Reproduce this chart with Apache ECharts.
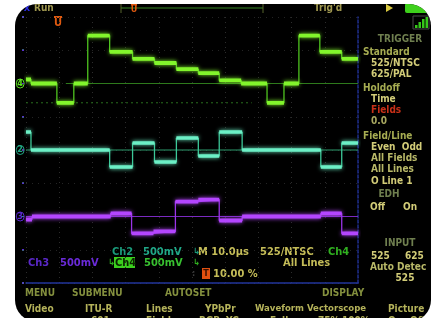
<!DOCTYPE html>
<html>
<head>
<meta charset="utf-8">
<script src="https://cdn.jsdelivr.net/npm/echarts@6/dist/echarts.min.js"></script>
<style>
  html, body { margin: 0; padding: 0; background: #fff; }
  #screen { position: absolute; left: 15px; top: 4px; width: 416px; height: 318px;
            background: #000; border-radius: 22px; overflow: hidden; }
  #main { position: absolute; left: -15px; top: -4px; width: 438px; height: 318px; }
</style>
</head>
<body>
<div id="screen"><div id="main"></div></div>
<script>
// time axis in microseconds (10 us / div), voltages in mV (500 mV / div)
const timeTicks = [0, 10, 20, 30, 40, 50, 60, 70, 80, 90, 100];

// Ch4 : Y (luma) - colour bars with sync
const ch4Edges  = [0, 1.5, 9.3, 14.4, 18.6, 25.2, 32.1, 38.7, 45.3, 51.9, 58.2, 64.8, 72.6, 77.7, 82.2, 88.5, 95.1, 100];
const ch4Levels = [60, 0, -290, 0, 720, 475, 370, 308, 215, 155, 46, 0, -290, 0, 720, 475, 370];

// Ch2 : Pb
const ch2Edges  = [0, 1.5, 25.2, 32.1, 38.7, 45.3, 51.9, 58.2, 65.1, 88.8, 95.1, 100];
const ch2Levels = [270, 0, -255, 105, -180, 180, -90, 270, 0, -255, 105];

// Ch3 : Pr
const ch3Edges  = [0, 1.8, 25.5, 31.8, 38.4, 45.0, 51.9, 58.2, 65.1, 88.8, 95.1, 100];
const ch3Levels = [-45, 0, 45, -255, -225, 225, 255, -60, 0, 45, -255];

// persistence traces (other lines of the field)
const ch4GhostEdges  = [12, 100];
const ch4GhostLevels = [0];
const ch4SyncGhostEdges  = [0, 68];
const ch4SyncGhostLevels = [-290];
const baseEdges  = [0, 100];
const baseLevels = [0];

const FONT = '"DejaVu Sans Condensed", "DejaVu Sans", sans-serif';

function stepData(edges, levels) {
  return edges.map((t, i) => [t, levels[Math.min(i, levels.length - 1)]]);
}
function levelData(edges, levels) {
  const out = [];
  levels.forEach((v, i) => { out.push([edges[i], v], [edges[i + 1], v], [edges[i + 1], '-']); });
  return out;
}

function txt(text, x, y, fill, size, align) {
  return { type: 'text', x: x, y: y, silent: true,
    style: { text: text, fill: fill, font: 'bold ' + (size || 10) + 'px ' + FONT,
             textAlign: align || 'left', textVerticalAlign: 'middle' } };
}

function trace(axis, edges, levels, thin, bright, width) {
  return [
    { type: 'line', yAxisIndex: axis, step: 'end', symbol: 'none', silent: true,
      data: stepData(edges, levels), lineStyle: { color: thin, width: 1.3 } },
    { type: 'line', yAxisIndex: axis, symbol: 'none', silent: true, connectNulls: false,
      data: levelData(edges, levels),
      lineStyle: { color: bright, width: width, shadowBlur: 4, shadowColor: bright } }
  ];
}
function ghost(axis, edges, levels, color, type) {
  return { type: 'line', yAxisIndex: axis, symbol: 'none', silent: true, z: 1,
    data: levelData(edges, levels), lineStyle: { color: color, width: 1, type: type || 'solid' } };
}

const chanLabel = (num, color) => ({
  show: true, margin: 2, color: color, fontSize: 9, fontWeight: 'bold', fontFamily: FONT,
  borderColor: color, borderWidth: 1, borderRadius: 4, padding: [0, 1, 0, 1],
  formatter: v => (v === 0 ? num : '')
});
const hidden = { axisLine: { show: false }, axisTick: { show: false }, splitLine: { show: false } };

const header = '#6f7f4f', olive = '#a6ac52', pale = '#d2cc78', item = '#b8b868';
const menuHead = '#84903e', menuItem = '#b4b25a', readout = '#c4bc58';

const graphics = [
  // status bar
  txt('x', 27, 8, '#2a2ae0', 11, 'center'),
  txt('Run', 34, 8, '#a09850'),
  { type: 'line', silent: true, shape: { x1: 121, y1: 8, x2: 263, y2: 8 }, style: { stroke: '#1c4412', lineWidth: 2 } },
  { type: 'line', silent: true, shape: { x1: 121, y1: 4, x2: 121, y2: 13 }, style: { stroke: '#56642c', lineWidth: 1 } },
  { type: 'line', silent: true, shape: { x1: 263, y1: 4, x2: 263, y2: 13 }, style: { stroke: '#56642c', lineWidth: 1 } },
  txt('U', 134, 10, '#e05a10', 9, 'center'),
  { type: 'rect', silent: true, shape: { x: 131, y: 4, width: 6, height: 1.5 }, style: { fill: '#e05a10' } },
  txt("Trig'd", 314, 8, '#a09850'),
  { type: 'polygon', silent: true, shape: { points: [[386, 4], [393, 8], [386, 12]] }, style: { fill: '#d8c840' } },
  { type: 'rect', silent: true, shape: { x: 405, y: 3, width: 30, height: 10, r: 2 }, style: { fill: '#3ed01c' } },
  { type: 'rect', silent: true, shape: { x: 413, y: 16, width: 16, height: 13 }, style: { fill: 'none', stroke: '#4a4a4a', lineWidth: 1 } },
  { type: 'rect', silent: true, shape: { x: 415, y: 25, width: 2.5, height: 3 }, style: { fill: '#36c81a' } },
  { type: 'rect', silent: true, shape: { x: 418.5, y: 22, width: 2.5, height: 6 }, style: { fill: '#36c81a' } },
  { type: 'rect', silent: true, shape: { x: 422, y: 19, width: 2.5, height: 9 }, style: { fill: '#36c81a' } },
  { type: 'rect', silent: true, shape: { x: 425.5, y: 17, width: 2.5, height: 11 }, style: { fill: '#36c81a' } },
  // trigger position marker
  { type: 'rect', silent: true, shape: { x: 54, y: 16, width: 8, height: 2 }, style: { fill: '#e05a10' } },
  txt('U', 58, 23, '#e05a10', 11, 'center'),

  // side panel
  txt('TRIGGER', 400, 39, header, 10, 'center'),
  txt('Standard', 363, 52, olive),
  txt('525/NTSC', 371, 63, pale),
  txt('625/PAL', 371, 74, pale),
  txt('Holdoff', 363, 88, olive),
  txt('Time', 371, 99, pale),
  txt('Fields', 371, 110, '#c83018'),
  txt('0.0', 371, 121, '#a8a860'),
  txt('Field/Line', 363, 136, olive),
  txt('Even  Odd', 371, 147, pale),
  txt('All Fields', 371, 158, item),
  txt('All Lines', 371, 169, item),
  txt('O Line 1', 371, 181, pale),
  txt('EDH', 389, 194, header, 10, 'center'),
  txt('Off', 370, 207, pale),
  txt('On', 403, 207, pale),
  txt('INPUT', 400, 243, header, 10, 'center'),
  txt('525', 371, 256, pale),
  txt('625', 405, 256, pale),
  txt('Auto Detec', 370, 267, item),
  txt('525', 405, 278, pale, 10, 'center'),

  // readouts
  txt('Ch2', 112, 252, '#1a9a7a', 11),
  txt('500mV', 143, 252, '#20a888', 11),
  txt('\u21b3', 193, 252, '#1a9a7a', 9),
  txt('M 10.0\u00b5s', 198, 252, readout, 11),
  txt('525/NTSC', 260, 252, readout, 11),
  txt('Ch4', 328, 252, '#30b020', 11),
  txt('Ch3', 28, 263, '#5a28c8', 11),
  txt('500mV', 60, 263, '#6a2ad8', 11),
  txt('\u21b3', 108, 263, '#30b020', 9),
  { type: 'rect', silent: true, shape: { x: 114, y: 257, width: 21, height: 11 }, style: { fill: '#3cd01e' } },
  txt('Ch4', 115, 263, '#0a2400', 11),
  txt('500mV', 144, 263, '#38c030', 11),
  txt('\u21b3', 193, 263, '#30b020', 9),
  txt('All Lines', 283, 263, readout, 11),
  txt(':', 192, 274, '#3a3a3a', 9),
  { type: 'rect', silent: true, shape: { x: 202, y: 268, width: 8, height: 11 }, style: { fill: '#e05010' } },
  txt('T', 206, 274, '#3a1000', 9, 'center'),
  txt('10.00 %', 213, 274, readout, 11),

  // menu bar
  txt('MENU', 25, 293, menuHead),
  txt('SUBMENU', 72, 293, menuHead),
  txt('AUTOSET', 165, 293, menuHead),
  txt('DISPLAY', 322, 293, menuHead),
  txt('Video', 25, 309, menuItem),
  txt('ITU-R', 85, 309, menuItem),
  txt('Lines', 146, 309, menuItem),
  txt('YPbPr', 205, 309, menuItem),
  txt('Waveform', 255, 309, menuItem, 9.5),
  txt('Vectorscope', 307, 309, menuItem, 9.5),
  txt('Picture', 388, 309, menuItem),
  txt('601', 91, 321, menuItem),
  txt('Fields', 146, 321, menuItem),
  txt('RGB', 199, 321, menuItem),
  txt('YC', 226, 321, menuItem),
  txt('Full', 270, 321, menuItem),
  txt('75%', 318, 321, menuItem),
  txt('100%', 342, 321, menuItem),
  txt('On', 388, 321, menuItem),
  txt('Off', 410, 321, menuItem)
];

const option = {
  backgroundColor: 'transparent',
  animation: false,
  grid: { left: 26, right: 80, top: 17, bottom: 35 },
  xAxis: {
    type: 'value', min: timeTicks[0], max: timeTicks[timeTicks.length - 1], interval: 10,
    axisLine: { show: true, onZero: false, lineStyle: { color: '#22349a', width: 1.5 } },
    axisTick: { show: false }, axisLabel: { show: false },
    splitLine: { show: true, lineStyle: { color: '#2c2c2c', width: 1, type: [1, 4] } }
  },
  yAxis: [
    Object.assign({ type: 'value', min: -3000, max: 1000, interval: 500, position: 'left',
      axisLabel: chanLabel('4', '#5ee022') }, hidden),
    Object.assign({ type: 'value', min: -2000, max: 2000, interval: 500, position: 'left',
      axisLabel: chanLabel('2', '#22a884') }, hidden,
      { splitLine: { show: true, lineStyle: { color: '#242424', width: 1, type: [1, 5] } } }),
    Object.assign({ type: 'value', min: -1000, max: 3000, interval: 500, position: 'left',
      axisLabel: chanLabel('3', '#5a2ad0') }, hidden),
    { type: 'value', min: 0, max: 1, position: 'right',
      axisLine: { show: true, lineStyle: { color: '#1c2c8c', width: 1.5, type: [3, 2] } },
      axisTick: { show: false }, axisLabel: { show: false }, splitLine: { show: false } }
  ],
  series: [
    ghost(0, ch4GhostEdges, ch4GhostLevels, '#2e7a1c'),
    ghost(0, ch4SyncGhostEdges, ch4SyncGhostLevels, '#2a6e1e', [2, 3]),
    ghost(1, baseEdges, baseLevels, '#2c9a6c'),
    ghost(2, baseEdges, baseLevels, '#7a2ac0')
  ]
    .concat(trace(0, ch4Edges, ch4Levels, '#4fc420', '#82f52c', 3.8))
    .concat(trace(1, ch2Edges, ch2Levels, '#3cc898', '#6cf0c6', 3.4))
    .concat(trace(2, ch3Edges, ch3Levels, '#9a34e8', '#b446ff', 3.8)),
  graphic: graphics
};

const myChart = echarts.init(document.getElementById('main'));
myChart.setOption(option);
</script>
</body>
</html>
